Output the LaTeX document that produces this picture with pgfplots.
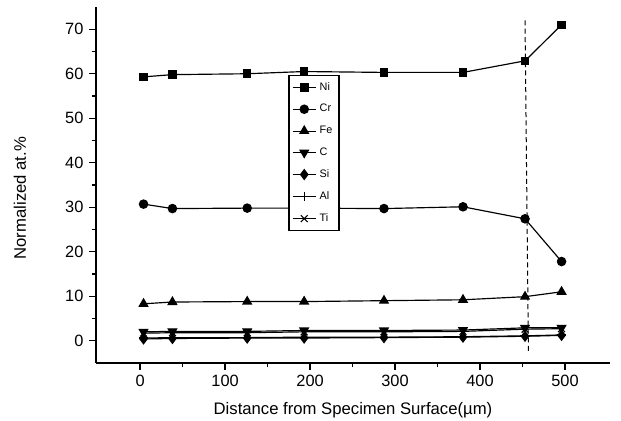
\documentclass[border=0pt]{standalone}
\usepackage{pgfplots}
\pgfplotsset{compat=1.18}
\usepackage{fontspec}
\setmainfont{Liberation Sans}
\begin{document}
\begin{tikzpicture}
\begin{axis}[
  name=ax,
  scale only axis,
  width=308pt, height=213.3pt,
  xmin=-52, xmax=553,
  ymin=-5, ymax=75,
  axis x line=bottom, axis y line=left,
  axis line style={-, line width=1.1pt},
  xtick={0,100,...,500}, minor x tick num=1,
  ytick={0,10,...,70}, minor y tick num=1,
  tick align=outside,
  tick style={black, line width=0.8pt},
  major tick length=4pt, minor tick length=2.5pt,
  tick label style={font=\fontsize{9.8}{12}\selectfont},
  /pgf/number format/assume math mode=true,
  xlabel={Distance from Specimen Surface(\textmu m)},
  ylabel={Normalized at.\%},
  xlabel style={font=\fontsize{10}{12}\selectfont, at={(axis description cs:0.5,-0.132)}, anchor=center},
  ylabel style={font=\fontsize{10}{12}\selectfont, at={(axis description cs:-0.148,0.463)}, anchor=center},
  every axis plot/.append style={black, line width=0.7pt, mark options={solid, fill=black}},
  legend style={at={(axis cs:174,59.8)}, anchor=north west, draw=black, line width=1pt,
    font=\fontsize{6.5}{7}\selectfont, row sep=3pt, inner sep=2pt, fill=white},
  legend cell align=left,
  legend image code/.code={\draw[line width=0.5pt] (0pt,0pt) -- (14pt,0pt); \draw plot coordinates {(7pt,0pt)};},
]
\addplot[mark=square*, mark size=2.2pt] coordinates {(4,59.3) (38,59.8) (126,60.0) (193,60.5) (287,60.3) (380,60.3) (453,62.9) (496,71.0)};
\addplot[mark=*, mark size=2.5pt] coordinates {(4,30.7) (38,29.7) (126,29.8) (193,29.8) (287,29.7) (380,30.1) (453,27.4) (496,17.8)};
\addplot[mark=triangle*, mark size=2.9pt] coordinates {(4,8.3) (38,8.7) (126,8.8) (193,8.8) (287,9.0) (380,9.2) (453,9.9) (496,11.0)};
\addplot[mark=triangle*, mark size=2.9pt, mark options={rotate=180}] coordinates {(4,2.0) (38,2.1) (126,2.1) (193,2.3) (287,2.3) (380,2.4) (453,2.9) (496,2.9)};
\addplot[mark=diamond*, mark size=2.9pt] coordinates {(4,0.4) (38,0.5) (126,0.6) (193,0.6) (287,0.7) (380,0.8) (453,1.0) (496,1.2)};
\addplot[mark=+, mark size=2.9pt] coordinates {(4,0.6) (38,0.7) (126,0.7) (193,0.8) (287,0.8) (380,0.9) (453,1.1) (496,1.3)};
\addplot[mark=x, mark size=2.9pt] coordinates {(4,1.7) (38,1.8) (126,1.8) (193,2.0) (287,2.0) (380,2.1) (453,2.6) (496,2.7)};
\legend{Ni,Cr,Fe,C,Si,Al,Ti}
\addplot[forget plot, black, line width=0.6pt, densely dashed, mark=none] coordinates {(453,72) (457,-2.5)};
\end{axis}
\pgfresetboundingbox
\path ([xshift=-57.5pt,yshift=-34.75pt]ax.south west) rectangle ([xshift=6.6pt,yshift=4.2pt]ax.north east);
\end{tikzpicture}
\end{document}
